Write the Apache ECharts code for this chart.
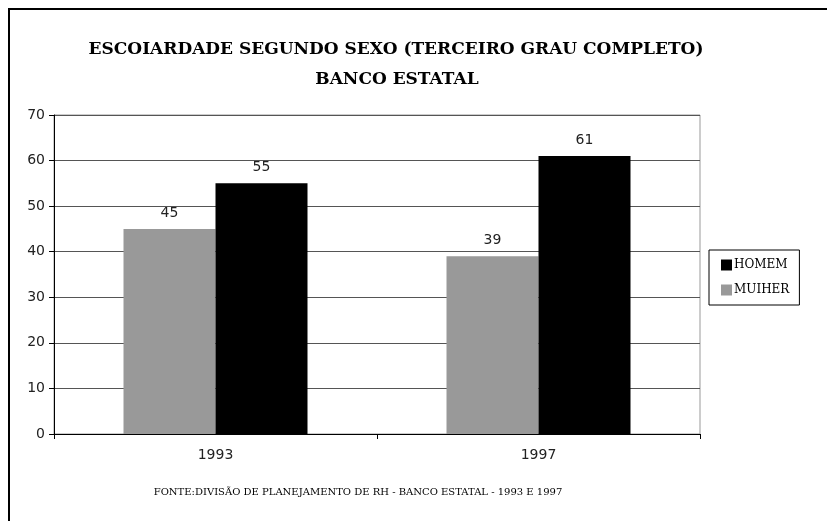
<!DOCTYPE html>
<html>
<head>
<meta charset="utf-8">
<script src="https://cdn.jsdelivr.net/npm/echarts@6/dist/echarts.min.js"></script>
<style>
  html, body { margin: 0; padding: 0; background: #fff; }
  #chart { width: 827px; height: 521px; }
</style>
</head>
<body>
<div id="chart"></div>
<script>
  // dados
  var anos = ['1993', '1997'];
  var mulher = [45, 39];
  var homem = [55, 61];
  var legenda = ['HOMEM', 'MUIHER'];
  var titulo = 'ESCOIARDADE SEGUNDO SEXO (TERCEIRO GRAU COMPLETO)';
  var subtitulo = 'BANCO ESTATAL';
  var fonte = 'FONTE:DIVISÃO DE PLANEJAMENTO DE RH - BANCO ESTATAL - 1993 E 1997';

  var serif = '"DejaVu Serif", "Liberation Serif", serif';
  var sans = '"DejaVu Sans", sans-serif';

  var chart = echarts.init(document.getElementById('chart'));
  var labelStyle = {
    show: true,
    position: 'top',
    distance: 9,
    color: '#222',
    fontFamily: sans,
    fontSize: 14
  };

  var option = {
    animation: false,
    backgroundColor: '#fff',
    title: [
      {
        text: titulo,
        left: 391, top: 36, textAlign: 'center',
        textStyle: { fontFamily: serif, fontWeight: 'bold', fontSize: 17, color: '#000' }
      },
      {
        text: subtitulo,
        left: 392, top: 66, textAlign: 'center',
        textStyle: { fontFamily: serif, fontWeight: 'bold', fontSize: 17, color: '#000' }
      },
      {
        text: fonte,
        left: 353, top: 482, textAlign: 'center',
        textStyle: { fontFamily: serif, fontWeight: 'normal', fontSize: 10, color: '#000' }
      }
    ],
    legend: {
      data: legenda,
      orient: 'vertical',
      left: 709, top: 250,
      itemWidth: 11, itemHeight: 11,
      itemGap: 13,
      icon: 'rect',
      borderColor: '#000',
      borderWidth: 1,
      padding: [9, 10, 9, 12],
      textStyle: { fontFamily: serif, fontSize: 12, color: '#000', padding: [0, 0, 0, -3] }
    },
    grid: {
      left: 54, right: 127, top: 115, bottom: 87,
      show: true, borderColor: '#999', borderWidth: 1
    },
    xAxis: {
      type: 'category',
      data: anos,
      axisLine: { lineStyle: { color: '#000', width: 1 } },
      axisTick: { show: true, length: 5, lineStyle: { color: '#000' } },
      axisLabel: { color: '#222', fontFamily: sans, fontSize: 14, margin: 14 }
    },
    yAxis: {
      type: 'value',
      min: 0, max: 70, interval: 10,
      axisLine: { show: true, lineStyle: { color: '#000', width: 1 } },
      axisTick: { show: true, length: 5, lineStyle: { color: '#000' } },
      axisLabel: { color: '#222', fontFamily: sans, fontSize: 14, margin: 9 },
      splitLine: { lineStyle: { color: '#555', width: 1 } }
    },
    series: [
      {
        name: 'MUIHER', type: 'bar', data: mulher,
        barWidth: 92, barGap: '0%',
        itemStyle: { color: '#999999' },
        label: labelStyle
      },
      {
        name: 'HOMEM', type: 'bar', data: homem,
        barWidth: 92,
        itemStyle: { color: '#000000' },
        label: labelStyle
      }
    ],
    graphic: [
      {
        type: 'rect',
        shape: { x: 9, y: 9, width: 900, height: 600 },
        style: { fill: null, stroke: '#000', lineWidth: 2 },
        silent: true
      }
    ]
  };

  chart.setOption(option);
</script>
</body>
</html>
